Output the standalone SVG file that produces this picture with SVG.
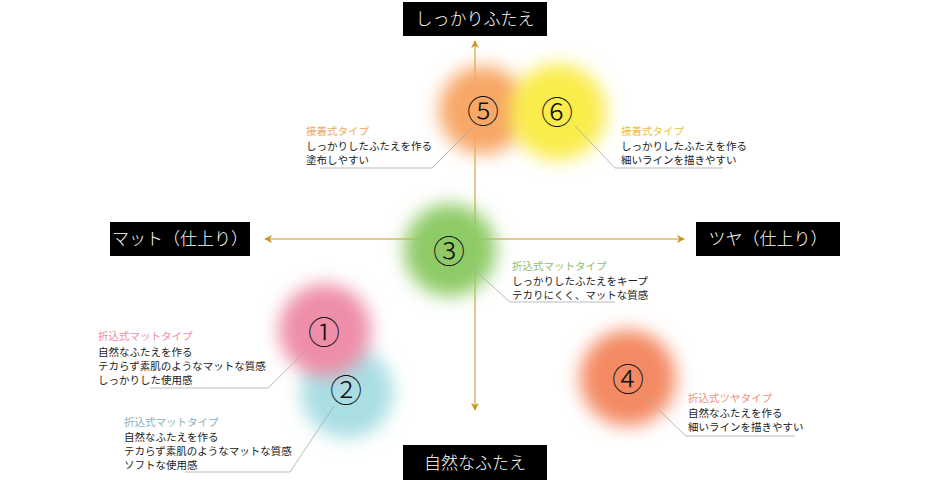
<svg xmlns="http://www.w3.org/2000/svg" width="940" height="480" viewBox="0 0 940 480">
<defs>
<filter id="blur" x="-50%" y="-50%" width="200%" height="200%"><feGaussianBlur stdDeviation="9"/></filter>
<marker id="arr" viewBox="0 0 10 10" refX="9" refY="5" markerWidth="8" markerHeight="8" orient="auto" markerUnits="userSpaceOnUse"><path d="M0,0 L10,5 L0,10 L3,5 Z" fill="#c8961e"/></marker>
<style>
.axis{stroke:#c8961e;stroke-width:1;fill:none}
.lead{stroke:#aaaaaa;stroke-width:0.8;fill:none}
.box{fill:#000}
.boxt{font-family:"Noto Sans CJK JP",sans-serif;font-size:17px;font-weight:300;fill:#fff;text-anchor:middle}
.num{font-family:"Noto Sans CJK JP",sans-serif;font-size:32px;font-weight:300;fill:#111;text-anchor:middle}
.cap{font-family:"Noto Sans CJK JP",sans-serif;font-size:10.5px;fill:#222}
.ttl{font-family:"Noto Sans CJK JP",sans-serif;font-size:10.5px}
</style>
</defs>
<rect width="940" height="480" fill="#fff"/>
<g id="connectors">
<line class="axis" x1="475" y1="239" x2="475" y2="41" marker-end="url(#arr)"/>
<line class="axis" x1="475" y1="239" x2="475" y2="410" marker-end="url(#arr)"/>
<line class="axis" x1="475" y1="239" x2="265" y2="239" marker-end="url(#arr)"/>
<line class="axis" x1="475" y1="239" x2="684" y2="239" marker-end="url(#arr)"/>
</g>
<g id="blobs">
<circle cx="483" cy="110" r="44" fill="#f7a766" filter="url(#blur)"/>
<circle cx="558" cy="112" r="48" fill="#f9ec4c" filter="url(#blur)"/>
<circle cx="450" cy="250" r="46" fill="#8ecb66" filter="url(#blur)"/>
<circle cx="347" cy="392" r="46" fill="#a9dee3" filter="url(#blur)"/>
<circle cx="325" cy="330" r="46" fill="#ee8ea8" filter="url(#blur)"/>
<circle cx="628" cy="378" r="48" fill="#f48a64" filter="url(#blur)"/>
</g>
<g id="leaders">
<polyline class="lead" points="472,128 432,168 320,168"/>
<polyline class="lead" points="575,126 615,168 723,168"/>
<polyline class="lead" points="470,266 510,302 615,302"/>
<polyline class="lead" points="308,349 268,388 150,388"/>
<polyline class="lead" points="334,406 290,472 185,472"/>
<polyline class="lead" points="644,396 686,436 795,436"/>
</g>
<g id="top-label"><rect class="box" x="403" y="2" width="144" height="34"/><text class="boxt" x="475" y="25">しっかりふたえ</text></g>
<g id="bottom-label"><rect class="box" x="403" y="445" width="144" height="35"/><text class="boxt" x="475" y="469">自然なふたえ</text></g>
<g id="left-label"><rect class="box" x="110" y="222" width="140" height="34"/><text class="boxt" x="180" y="245">マット（仕上り）</text></g>
<g id="right-label"><rect class="box" x="696" y="222" width="144" height="34"/><text class="boxt" x="768" y="245">ツヤ（仕上り）</text></g>
<g id="node5"><text class="num" x="483" y="123">⑤</text>
<text class="ttl" x="306" y="135" fill="#f2a862">接着式タイプ</text><text class="cap" x="306" y="150">しっかりしたふたえを作る</text><text class="cap" x="306" y="164">塗布しやすい</text></g>
<g id="node6"><text class="num" x="557" y="124">⑥</text>
<text class="ttl" x="621" y="135" fill="#f0c040">接着式タイプ</text><text class="cap" x="621" y="150">しっかりしたふたえを作る</text><text class="cap" x="621" y="164">細いラインを描きやすい</text></g>
<g id="node3"><text class="num" x="449" y="263">③</text>
<text class="ttl" x="512" y="270" fill="#8cc070">折込式マットタイプ</text><text class="cap" x="512" y="285">しっかりしたふたえをキープ</text><text class="cap" x="512" y="299">テカりにくく、マットな質感</text></g>
<g id="node1"><text class="num" x="324" y="344">①</text>
<text class="ttl" x="98" y="340" fill="#f08ca4">折込式マットタイプ</text><text class="cap" x="98" y="356">自然なふたえを作る</text><text class="cap" x="98" y="370">テカらず素肌のようなマットな質感</text><text class="cap" x="98" y="384">しっかりした使用感</text></g>
<g id="node2"><text class="num" x="346" y="402">②</text>
<text class="ttl" x="124" y="426" fill="#88b4c0">折込式マットタイプ</text><text class="cap" x="124" y="441">自然なふたえを作る</text><text class="cap" x="124" y="455">テカらず素肌のようなマットな質感</text><text class="cap" x="124" y="469">ソフトな使用感</text></g>
<g id="node4"><text class="num" x="628" y="391">④</text>
<text class="ttl" x="688" y="402" fill="#f09080">折込式ツヤタイプ</text><text class="cap" x="688" y="417">自然なふたえを作る</text><text class="cap" x="688" y="431">細いラインを描きやすい</text></g>
</svg>
